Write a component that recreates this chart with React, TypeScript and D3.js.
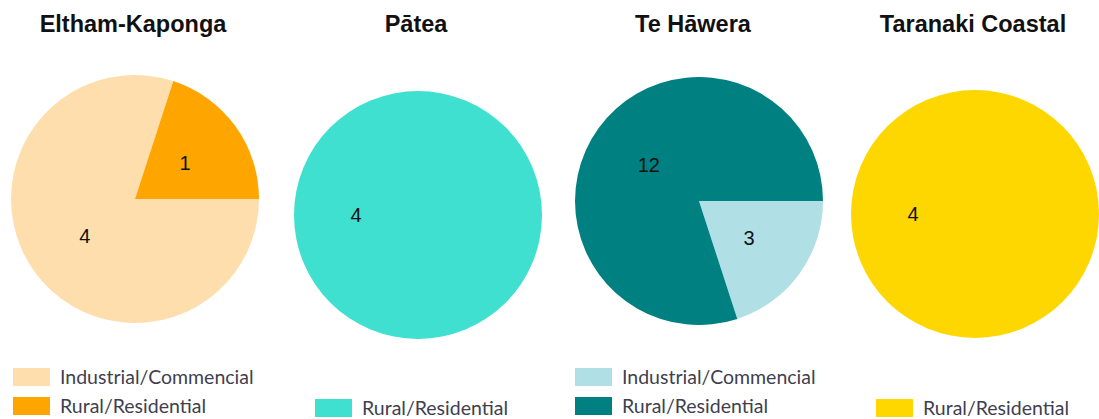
import React, { useEffect, useRef } from 'react';
import * as d3 from 'd3';

// chart data
const regions = ['Eltham-Kaponga', 'Pātea', 'Te Hāwera', 'Taranaki Coastal'];
const categories = ['Industrial/Commencial', 'Rural/Residential'];
const industrialCounts = [4, 0, 3, 0];
const ruralCounts = [1, 4, 12, 4];
const industrialColors = ['#FFDEAD', '#B0E0E6', '#B0E0E6', '#FFD700'];
const ruralColors = ['#FFA500', '#40E0D0', '#008080', '#FFD700'];

// panel layout (pixel positions of each small multiple)
const pieCx = [135, 418, 699, 975];
const pieCy = [199, 215, 201, 214];
const titleCx = [133, 416, 693, 973];
const legendX = [13, 315, 575, 876];

const W = 1099;
const H = 419;
const R = 124;

const App = () => {
  const ref = useRef<SVGSVGElement>(null);

  useEffect(() => {
    const svg = d3.select(ref.current);
    svg.selectAll('*').remove();

    const pie = d3.pie<any>()
      .value(d => d.value)
      .sort(null)
      .startAngle(Math.PI / 2)
      .endAngle(Math.PI / 2 + 2 * Math.PI);

    const arc = d3.arc<any>().innerRadius(0).outerRadius(R);
    const labelArc = d3.arc<any>().innerRadius(R * 0.5).outerRadius(R * 0.5);

    regions.forEach((name, i) => {
      const slices = [
        { key: categories[0], value: industrialCounts[i], color: industrialColors[i] },
        { key: categories[1], value: ruralCounts[i], color: ruralColors[i] },
      ];

      // title
      svg.append('text')
        .attr('x', titleCx[i])
        .attr('y', 32)
        .attr('text-anchor', 'middle')
        .style('font-family', 'Liberation Sans, Arial, sans-serif')
        .style('font-weight', 'bold')
        .style('font-size', '23.5px')
        .style('fill', '#111')
        .text(name);

      const g = svg.append('g')
        .attr('transform', `translate(${pieCx[i]},${pieCy[i]})`);

      const arcs = pie(slices).filter(d => d.data.value > 0);

      g.selectAll('path')
        .data(arcs)
        .enter()
        .append('path')
          .attr('d', arc)
          .attr('fill', d => d.data.color);

      g.selectAll('text')
        .data(arcs)
        .enter()
        .append('text')
          .attr('transform', d => `translate(${labelArc.centroid(d)})`)
          .attr('text-anchor', 'middle')
          .attr('dy', '0.36em')
          .style('font-family', 'Liberation Sans, Arial, sans-serif')
          .style('font-size', '20px')
          .style('fill', '#111')
          .text(d => d.data.value);

      // legend: only categories present in this region
      const items = slices.filter(d => d.value > 0);
      const top = items.length === 2 ? 368 : 399;
      items.forEach((d, j) => {
        const y = top + j * 29;
        svg.append('rect')
          .attr('x', legendX[i])
          .attr('y', y)
          .attr('width', 37)
          .attr('height', 18)
          .attr('fill', d.color);
        svg.append('text')
          .attr('x', legendX[i] + 47)
          .attr('y', y + 9)
          .attr('dy', '0.35em')
          .style('font-family', 'Lato, sans-serif')
          .style('font-size', '19.5px')
          .style('fill', '#3f3f4f')
          .text(d.key);
      });
    });
  }, []);

  return (
    <svg
      ref={ref}
      width={W}
      height={H}
      style={{ position: 'absolute', left: 0, top: 0, background: '#fff' }}
    />
  );
};

export default App;
